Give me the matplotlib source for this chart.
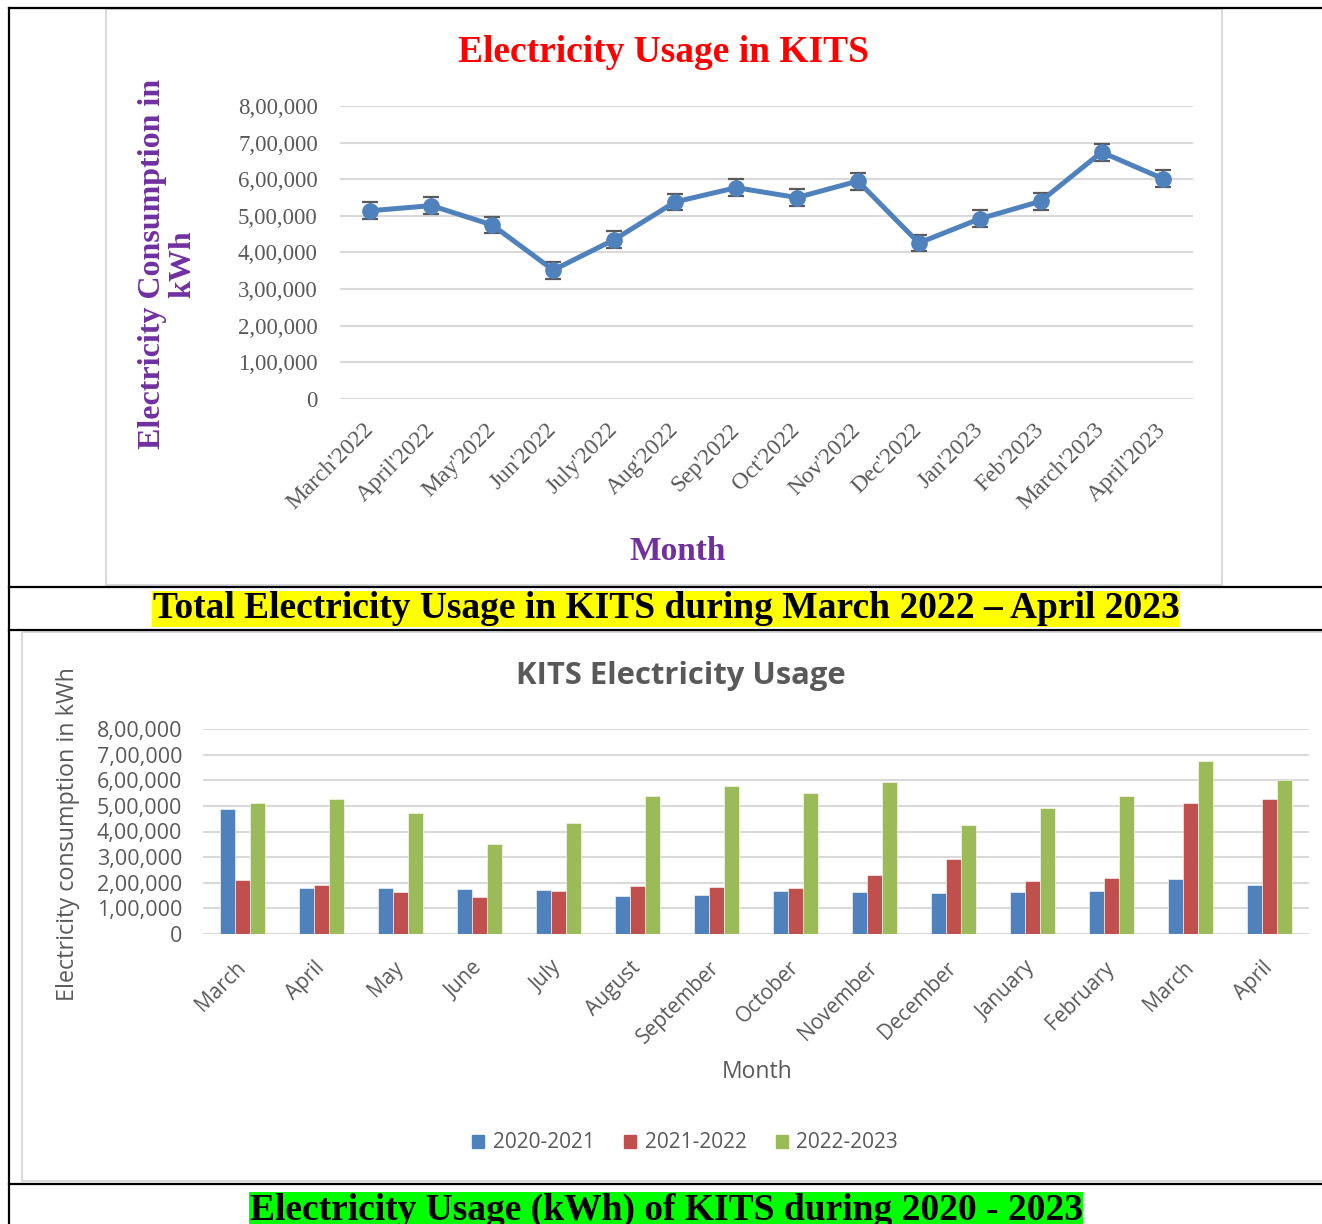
import numpy as np
import matplotlib.pyplot as plt
from matplotlib.patches import Rectangle, Patch
from matplotlib.ticker import FuncFormatter

W, H = 1322, 1224

# line chart data (March 2022 - April 2023)
months_line = ["March'2022", "April'2022", "May'2022", "Jun'2022", "July'2022", "Aug'2022",
               "Sep'2022", "Oct'2022", "Nov'2022", "Dec'2022", "Jan'2023", "Feb'2023",
               "March'2023", "April'2023"]
usage_line = [514000, 528000, 475000, 352000, 435000, 538000, 577000, 550000, 595000,
              426000, 492000, 540000, 674000, 602000]
usage_err = 23000

# bar chart data (three academic years)
months_bar = ["March", "April", "May", "June", "July", "August", "September", "October",
              "November", "December", "January", "February", "March", "April"]
years = ["2020-2021", "2021-2022", "2022-2023"]
y2020 = [486000, 180000, 180000, 174000, 172000, 149000, 151000, 168000, 163000,
         159000, 164000, 168000, 213000, 192000]
y2021 = [210000, 190000, 165000, 146000, 167000, 189000, 184000, 178000, 230000,
         292000, 206000, 217000, 513000, 527000]
y2022 = [513000, 527000, 474000, 350000, 435000, 537000, 576000, 549000, 595000,
         426000, 491000, 539000, 674000, 602000]
bar_colors = ['#4F81BD', '#C0504D', '#9BBB59']

SERIF = 'Liberation Serif'
SANS = 'Open Sans'
GREY = '#595959'


def lakh(v, pos=None):
    s = str(int(round(v)))
    if len(s) <= 3:
        return s
    head, tail = s[:-3], s[-3:]
    parts = []
    while len(head) > 2:
        parts.insert(0, head[-2:])
        head = head[:-2]
    if head:
        parts.insert(0, head)
    return ','.join(parts + [tail])


def px(x0, y0, x1, y1):
    return [x0 / W, 1 - y1 / H, (x1 - x0) / W, (y1 - y0) / H]


fig = plt.figure(figsize=(W / 100, H / 100), dpi=100)

# background layer in pixel coordinates (table lines, frames, captions)
bg = fig.add_axes([0, 0, 1, 1], zorder=-1)
bg.set_xlim(0, W)
bg.set_ylim(H, 0)
bg.axis('off')

bg.add_patch(Rectangle((106, 9), 1116, 576, fill=False, ec='#D9D9D9', lw=1.5))
bg.add_patch(Rectangle((22, 632), 1330, 549, fill=False, ec='#D9D9D9', lw=1.5))
for yy in [8, 587, 630, 1184]:
    bg.plot([9, W], [yy, yy], color='black', lw=1.6)
bg.plot([9, 9], [8, H], color='black', lw=1.6)

# ---- chart 1: line
ax1 = fig.add_axes(px(340, 106, 1193, 399))
x = np.arange(len(months_line))
ax1.errorbar(x, usage_line, yerr=usage_err, color='#4F81BD', lw=3.6, marker='o', ms=11,
             ecolor=GREY, elinewidth=1.3, capsize=5.5, capthick=1.6, zorder=3)
ax1.set_xlim(-0.5, len(x) - 0.5)
ax1.set_ylim(0, 800000)
ax1.set_yticks(np.arange(0, 800001, 100000))
ax1.yaxis.set_major_formatter(FuncFormatter(lakh))
ax1.set_xticks(x)
ax1.set_xticklabels(months_line, rotation=45, ha='right', va='center', rotation_mode='anchor',
                    family=SERIF, fontsize=17, color=GREY)
for t in ax1.get_yticklabels():
    t.set_family(SERIF)
    t.set_fontsize(16.5)
    t.set_color(GREY)
ax1.tick_params(axis='both', length=0)
ax1.tick_params(axis='y', pad=16)
ax1.tick_params(axis='x', pad=20)
ax1.grid(axis='y', color='#D9D9D9', lw=1.5)
ax1.set_axisbelow(True)
for s in ax1.spines.values():
    s.set_visible(False)

bg.text(663, 53, 'Electricity Usage in KITS', family=SERIF, weight='bold', fontsize=27,
        color='#FF0000', ha='center', va='center')
bg.text(168, 264, 'Electricity Consumption in\nkWh', family=SERIF, weight='bold', fontsize=23,
        color='#7030A0', ha='center', va='center', rotation=90, multialignment='center',
        linespacing=1.05)
bg.text(678, 551, 'Month', family=SERIF, weight='bold', fontsize=24, color='#7030A0',
        ha='center', va='center')

bg.text(666, 609, 'Total Electricity Usage in KITS during March 2022 \u2013 April 2023',
        family=SERIF, weight='bold', fontsize=27, color='black', ha='center', va='center',
        bbox=dict(boxstyle='square,pad=0.02', fc='#FFFF00', ec='none'))

# ---- chart 2: grouped bars
ax2 = fig.add_axes(px(203, 729, 1309, 934))
xb = np.arange(len(months_bar))
w = 0.19
for i, (vals, lab) in enumerate(zip([y2020, y2021, y2022], years)):
    ax2.bar(xb + (i - 1) * w, vals, w, color=bar_colors[i], label=lab, zorder=2,
            edgecolor='white', linewidth=0.4)
ax2.set_xlim(-0.5, len(xb) - 0.5)
ax2.set_ylim(0, 800000)
ax2.set_yticks(np.arange(0, 800001, 100000))
ax2.yaxis.set_major_formatter(FuncFormatter(lakh))
ax2.set_xticks(xb)
ax2.set_xticklabels(months_bar, rotation=45, ha='right', va='center', rotation_mode='anchor',
                    family=SANS, fontsize=15, color=GREY)
for t in ax2.get_yticklabels():
    t.set_family(SANS)
    t.set_fontsize(15.5)
    t.set_color(GREY)
ax2.tick_params(axis='both', length=0)
ax2.tick_params(axis='y', pad=15)
ax2.tick_params(axis='x', pad=22)
ax2.grid(axis='y', color='#D9D9D9', lw=1.5)
ax2.set_axisbelow(True)
for s in ax2.spines.values():
    s.set_visible(False)

bg.text(681, 676, 'KITS Electricity Usage', family=SANS, weight='bold', fontsize=22.3,
        color=GREY, ha='center', va='center')
bg.text(68, 834, 'Electricity consumption in kWh', family=SANS, fontsize=16.8, color=GREY,
        ha='center', va='center', rotation=90)
bg.text(757, 1072, 'Month', family=SANS, fontsize=16.5, color=GREY, ha='center', va='center')

handles = [Patch(color=c, label=l) for c, l in zip(bar_colors, years)]
leg = fig.legend(handles=handles, loc='center', bbox_to_anchor=(685 / W, 1 - 1143 / H), ncol=3,
                 frameon=False, handlelength=0.6, handleheight=0.6, handletextpad=0.4,
                 columnspacing=1.4, prop={'family': SANS, 'size': 15})
for t in leg.get_texts():
    t.set_color(GREY)

bg.text(666, 1193, 'Electricity Usage (kWh) of KITS during 2020 - 2023', family=SERIF,
        weight='bold', fontsize=27, color='black', ha='center', va='top',
        bbox=dict(boxstyle='square,pad=0.02', fc='#00FF00', ec='none'))

fig.savefig('out.png', dpi=100)
